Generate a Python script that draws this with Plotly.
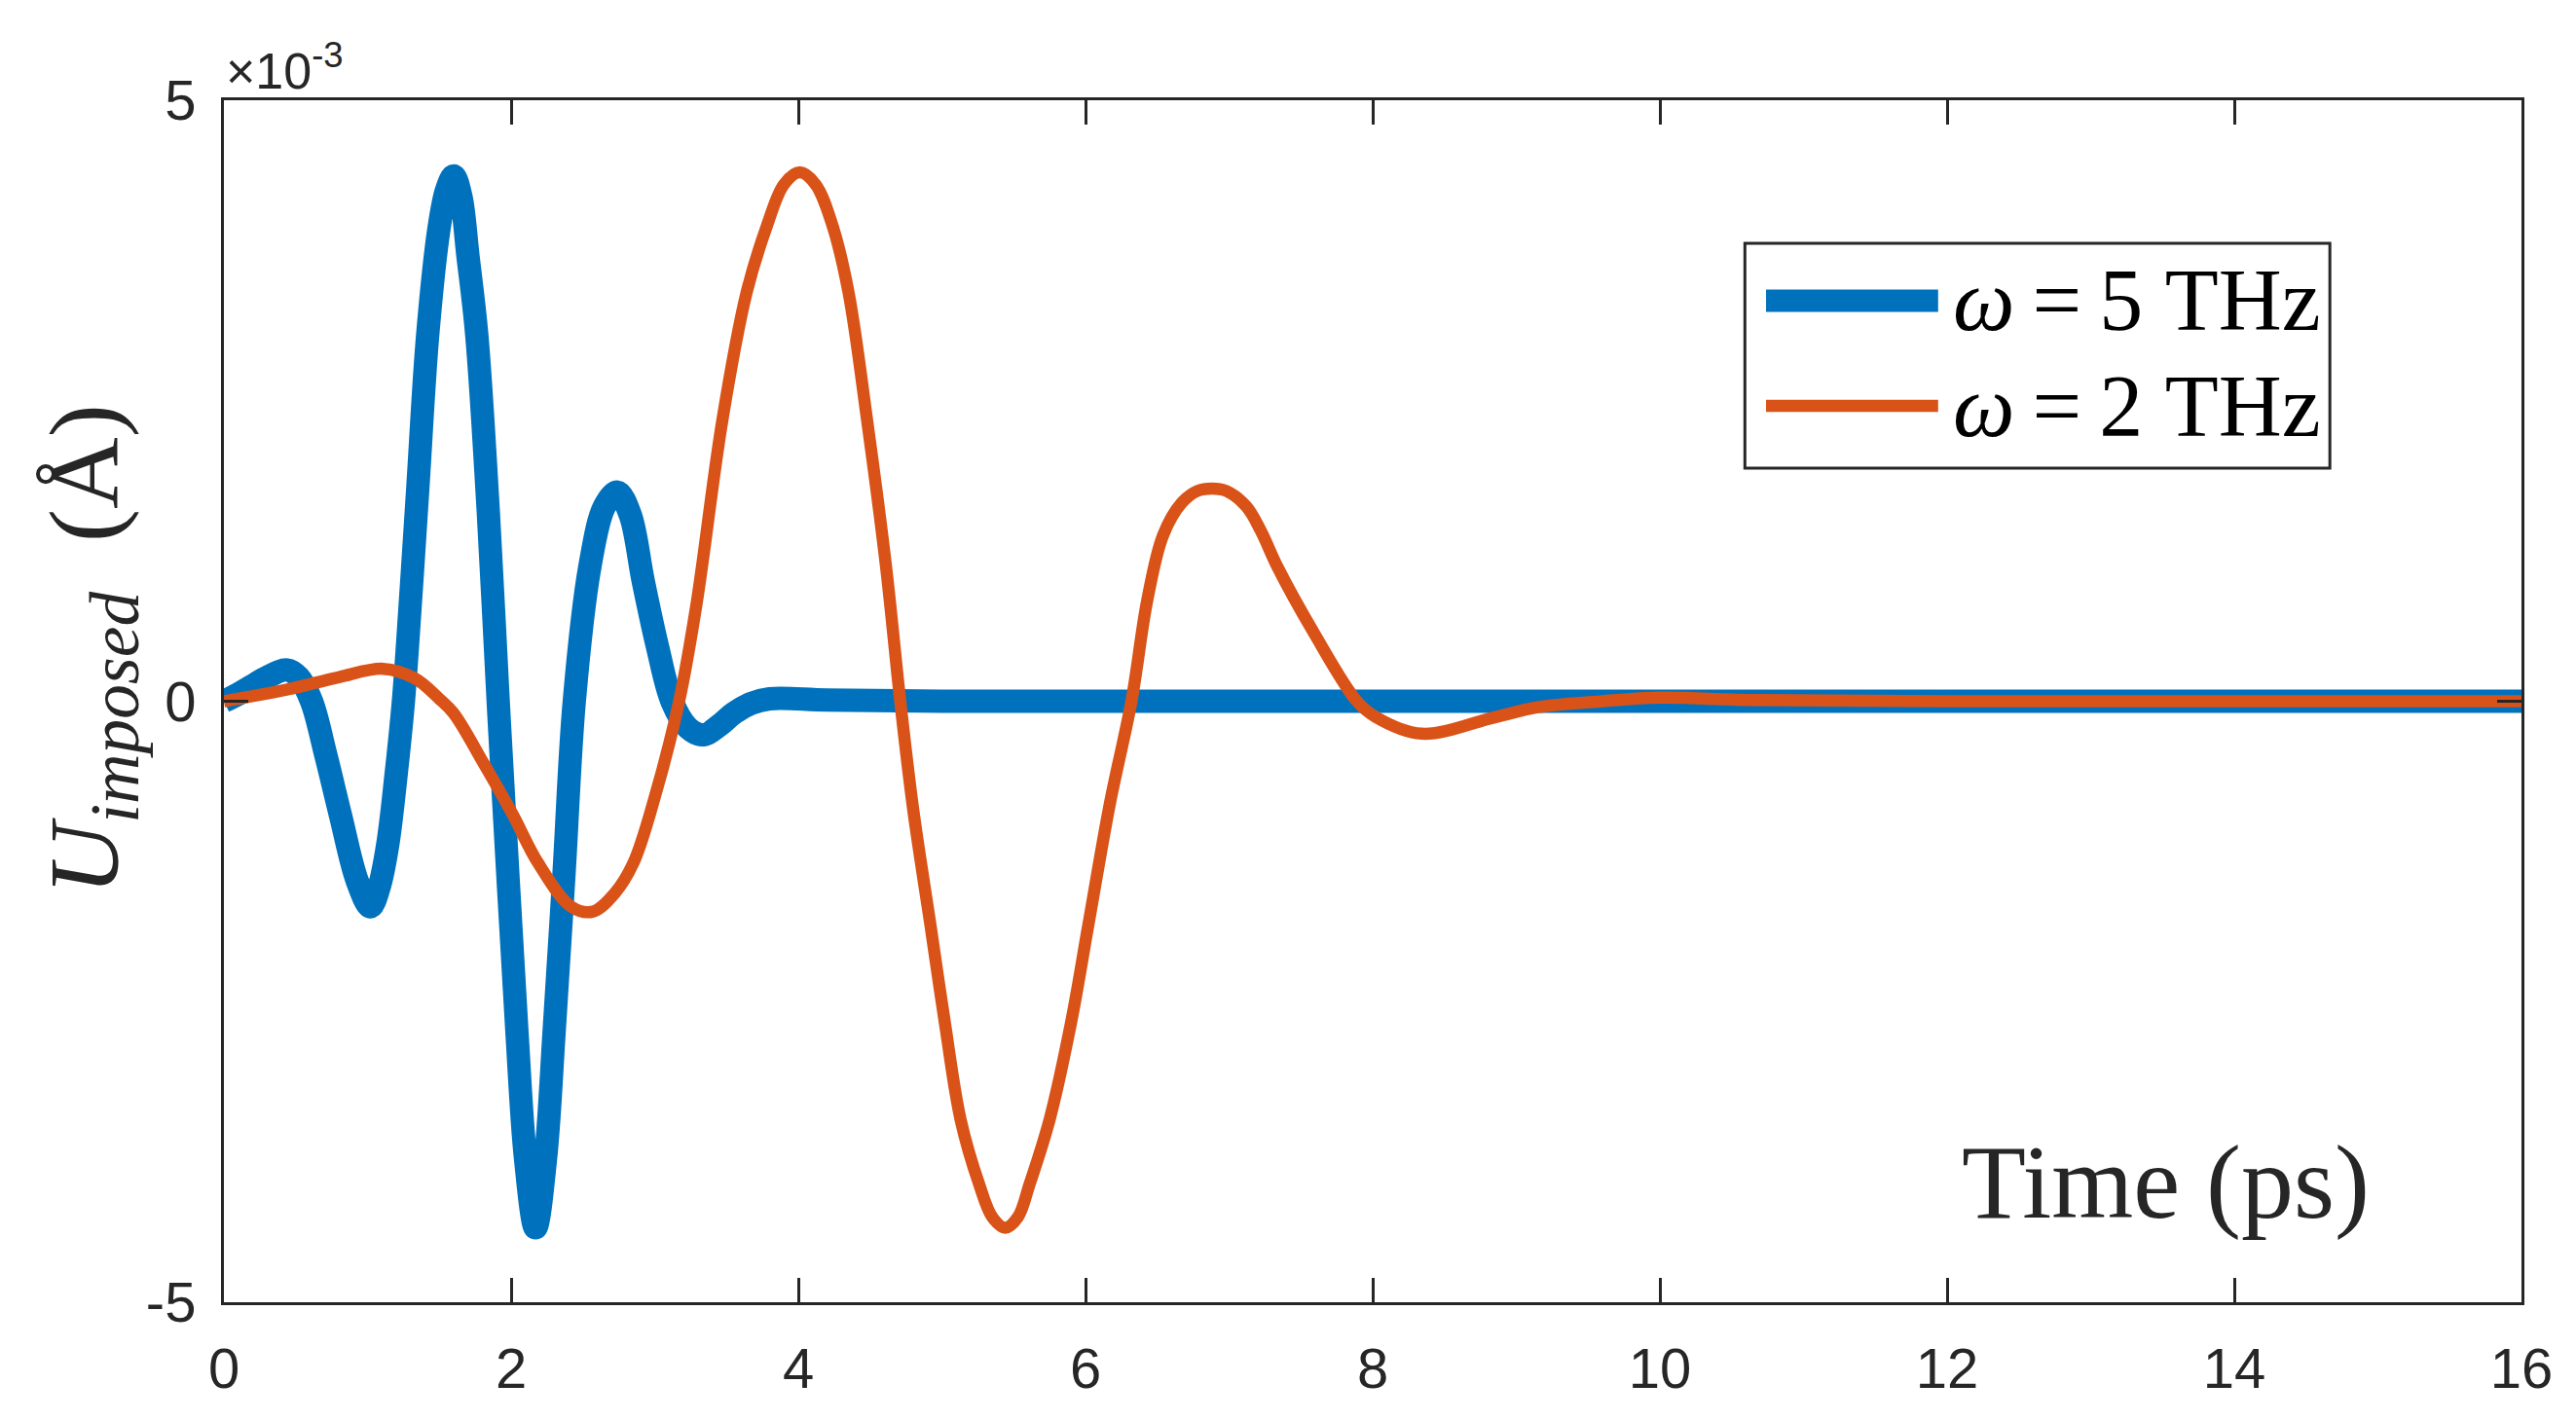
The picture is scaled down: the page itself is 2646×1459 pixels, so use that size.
import plotly.graph_objects as go

# values, y in units of 1e-3 Angstrom
t_5thz = [0, 0.1, 0.2, 0.3, 0.44, 0.52, 0.61, 0.71, 0.81, 0.93, 1.02, 1.08, 1.14, 1.2,
          1.25, 1.3, 1.35, 1.42, 1.5, 1.55, 1.6, 1.65, 1.7, 1.76, 1.84, 1.91, 1.98, 2.04,
          2.1, 2.17, 2.24, 2.30, 2.37, 2.44, 2.55, 2.65, 2.74, 2.83, 2.92, 3.02, 3.12,
          3.23, 3.34, 3.45, 3.55, 3.67, 3.8, 4.2, 5, 6, 8, 10, 12, 14, 16]
u_5thz = [0, 0.06, 0.13, 0.2, 0.26, 0.2, 0, -0.45, -0.94, -1.5, -1.71, -1.55, -1.2, -0.6,
          0, 0.85, 1.77, 3.06, 3.95, 4.25, 4.37, 4.2, 3.7, 3.06, 1.6, 0, -1.5, -2.74,
          -3.8, -4.38, -3.8, -2.74, -1.4, 0, 1.13, 1.62, 1.74, 1.55, 1.0, 0.45, 0,
          -0.22, -0.28, -0.2, -0.1, -0.02, 0.02, 0.01, 0, 0, 0, 0, 0, 0, 0]

t_2thz = [0, 0.45, 0.8, 1.11, 1.33, 1.5, 1.6, 1.81, 2.01, 2.19, 2.42, 2.57, 2.72, 2.85,
          3.0, 3.17, 3.29, 3.47, 3.64, 3.78, 3.9, 4.01, 4.12, 4.24, 4.35, 4.48, 4.61,
          4.71, 4.8, 4.92, 5.02, 5.13, 5.26, 5.35, 5.44, 5.53, 5.61, 5.75, 5.90, 6.02,
          6.17, 6.32, 6.43, 6.54, 6.67, 6.78, 6.88, 6.98, 7.12, 7.22, 7.34, 7.59, 7.89,
          8.02, 8.34, 8.86, 9.15, 9.6, 10.0, 10.65, 12, 14, 16]
u_2thz = [0, 0.1, 0.2, 0.27, 0.19, 0.02, -0.10, -0.52, -0.94, -1.35, -1.71, -1.75, -1.6,
          -1.35, -0.8, 0, 0.8, 2.33, 3.40, 3.95, 4.30, 4.40, 4.30, 3.95, 3.40, 2.33,
          1.13, 0, -0.9, -1.86, -2.67, -3.48, -4.02, -4.29, -4.38, -4.29, -4.02, -3.48,
          -2.67, -1.86, -0.85, 0, 0.84, 1.38, 1.65, 1.75, 1.77, 1.75, 1.62, 1.42, 1.11,
          0.57, 0, -0.13, -0.27, -0.13, -0.05, 0, 0.03, 0.01, 0, 0, 0]

x_ticks = [0, 2, 4, 6, 8, 10, 12, 14, 16]
y_ticks = [-5, 0, 5]
y_ticktext = ["-5", "0", "5"]

names = ["<i>ω</i>\u2009=\u20095 THz", "<i>ω</i>\u2009=\u20092 THz"]
blue = "#0072BD"
orange = "#D95319"
ink = "#262626"

fig = go.Figure()
fig.add_trace(go.Scatter(x=t_5thz, y=u_5thz, mode="lines", name=names[0],
                         line=dict(color=blue, width=24, shape="spline", smoothing=1.0)))
fig.add_trace(go.Scatter(x=t_2thz, y=u_2thz, mode="lines", name=names[1],
                         line=dict(color=orange, width=12.5, shape="spline", smoothing=1.0)))

axis_common = dict(showline=True, mirror="ticks", linecolor=ink, linewidth=3,
                   ticks="inside", ticklen=25, tickwidth=3, tickcolor=ink,
                   showgrid=False, zeroline=False,
                   tickfont=dict(family="Liberation Sans", size=58, color=ink))

fig.update_xaxes(range=[0, 16], tickvals=x_ticks, ticklabelstandoff=15, **axis_common)
fig.update_yaxes(range=[-5, 5], tickvals=y_ticks, ticktext=y_ticktext,
                 ticklabelstandoff=14, **axis_common)

# hand-made legend box (long swatches like the original)
shapes = [
    dict(type="rect", xref="paper", yref="paper", x0=0.662, x1=0.9166, y0=0.694, y1=0.881,
         line=dict(color=ink, width=3), fillcolor="white", layer="above"),
    dict(type="line", xref="paper", yref="paper", x0=0.6712, x1=0.7461, y0=0.8332, y1=0.8332,
         line=dict(color=blue, width=23), layer="above"),
    dict(type="line", xref="paper", yref="paper", x0=0.6712, x1=0.7461, y0=0.7457, y1=0.7457,
         line=dict(color=orange, width=12.5), layer="above"),
]

serif = "Liberation Serif"
annotations = [
    dict(text=names[0], xref="paper", yref="paper", x=0.7515, y=0.8332, xanchor="left",
         yanchor="middle", showarrow=False, font=dict(family=serif, size=90, color="black")),
    dict(text=names[1], xref="paper", yref="paper", x=0.7515, y=0.7457, xanchor="left",
         yanchor="middle", showarrow=False, font=dict(family=serif, size=90, color="black")),
    dict(text="Time (ps)", xref="paper", yref="paper", x=0.845, y=0.0996, xanchor="center",
         yanchor="middle", showarrow=False, font=dict(family=serif, size=108, color=ink)),
    dict(text="<i>U</i><sub><i>imposed</i></sub>  (Å)", xref="paper", yref="paper",
         x=-0.058, y=0.543, xanchor="center", yanchor="middle", textangle=-90,
         showarrow=False, font=dict(family=serif, size=102, color=ink)),
    dict(text="×10<sup>-3</sup>", xref="paper", yref="paper", x=0.0, y=0.999,
         xanchor="left", yanchor="bottom", showarrow=False,
         font=dict(family="Liberation Sans", size=52, color=ink)),
]

# page body has an 8px margin, so the figure is 16px smaller than the window
fig.update_layout(width=2630, height=1443, showlegend=False,
                  plot_bgcolor="white", paper_bgcolor="white",
                  margin=dict(l=222, r=48, t=95, b=113),
                  shapes=shapes, annotations=annotations)

fig.write_html("out.html")
